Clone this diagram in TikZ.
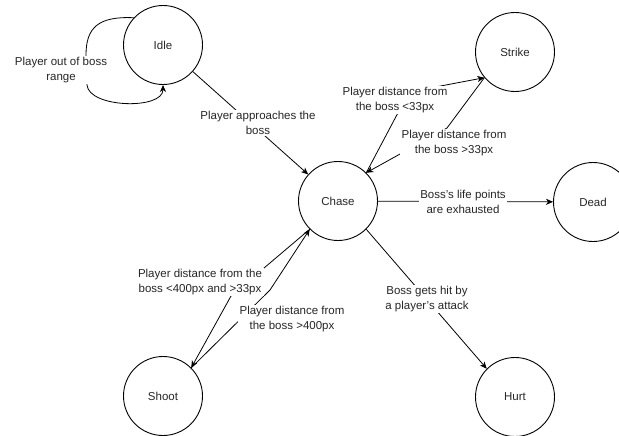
\documentclass[tikz,border=0pt]{standalone}
\usepackage{fontspec}
\setmainfont{Liberation Sans}
\usetikzlibrary{arrows.meta}
\begin{document}
\begin{tikzpicture}[x=1pt,y=-1pt,
  state/.style={circle,draw,line width=0.9pt,minimum size=79pt,inner sep=0pt,font=\fontsize{11.5}{13}\selectfont,text=black!85},
  arr/.style={line width=0.8pt,-{Stealth[length=7pt,width=6pt,inset=2pt]}},
  lbl/.style={fill=white,inner sep=1.5pt,align=center,font=\fontsize{11.5}{14.5}\selectfont,text=black!85}]
\useasboundingbox (0,0) rectangle (619,436);
% states
\node[state] (idle)   at (163,45)  {Idle};
\node[state] (strike) at (515,52)  {Strike};
\node[state] (chase)  at (338,201) {Chase};
\node[state] (dead)   at (593,202) {Dead};
\node[state] (shoot)  at (163,396) {Shoot};
\node[state] (hurt)   at (515,397) {Hurt};
% waypoints
\coordinate (w1) at (409,92);
\coordinate (w2) at (447,128);
\coordinate (w3) at (231,296);
\coordinate (w4) at (270,290);
% edges
\draw[arr] (idle.137) .. controls (98,16) and (86,28) .. (86,55) -- (87,85) .. controls (89,108) and (163,110) .. (idle.south);
\draw[arr] (idle) -- (chase);
\draw[arr] (chase.45) -- (w1) -- (strike.220);
\draw[arr] (strike.220) -- (w2) -- (chase.45);
\draw[arr] (chase) -- (dead);
\draw[arr] (chase.-45) -- (hurt.135);
\draw[arr] (chase.225) -- (w3) -- (shoot.45);
\draw[arr] (shoot.45) -- (w4) -- (chase.225);
% labels
\node[lbl] (l0) at (61,70)   {Player out of boss\\range};
\node[lbl] (l1) at (258,123) {Player approaches the\\boss};
\node[lbl] (l2) at (395,100) {Player distance from\\the boss <33px};
\node[lbl] (l3) at (454,143) {Player distance from\\the boss >33px};
\node[lbl] (l4) at (463,202) {Boss's life points\\are exhausted};
\node[lbl] (l5) at (427,299) {Boss gets hit by\\a player's attack};
\node[lbl] (l6) at (200,282) {Player distance from the\\boss <400px and >33px};
\node[lbl] (l7) at (292,319) {Player distance from\\the boss >400px};
\end{tikzpicture}
\end{document}
